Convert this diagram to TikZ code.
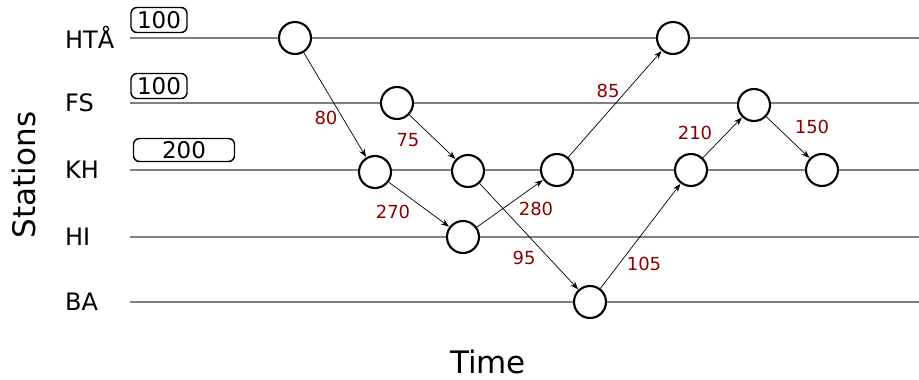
\documentclass[tikz,border=0pt]{standalone}
\usepackage{fontspec}
\setmainfont{DejaVu Sans}
\usetikzlibrary{arrows.meta}
\begin{document}
\begin{tikzpicture}[x=1pt,y=-1pt,
  station/.style={draw=black!50, line width=2.3pt},
  stlabel/.style={anchor=west, inner sep=0pt, font=\fontsize{24}{26}\selectfont},
  event/.style={circle, draw, line width=2.1pt, minimum size=32pt, inner sep=0pt, fill=white},
  flow/.style={-{Stealth[length=8pt,width=6pt]}, line width=0.7pt, shorten >=0.5pt},
  flab/.style={text=red!55!black, font=\fontsize{18}{20}\selectfont, inner sep=0pt},
  capbox/.style={draw, rounded corners=6pt, line width=1.4pt, inner sep=0pt, font=\fontsize{23}{25}\selectfont},
  axlab/.style={font=\fontsize{31}{34}\selectfont, inner sep=0pt}]
\useasboundingbox (0,0) rectangle (919,380);
% station lines
\foreach \n/\y in {hta/38, fs/103, kh/170, hi/237, ba/302}{
  \coordinate (\n-s) at (130,\y);
  \coordinate (\n-e) at (919,\y);
  \draw[station] (\n-s) -- (\n-e);
}
% station labels
\node[stlabel] (lhta) at (65,37) {HTÅ};
\node[stlabel] (lfs) at (65,103) {FS};
\node[stlabel] (lkh) at (65,170) {KH};
\node[stlabel] (lhi) at (65,237) {HI};
\node[stlabel] (lba) at (65,302) {BA};
% capacity boxes
\node[capbox, minimum width=56pt, minimum height=25pt] (c1) at (159,20) {100};
\node[capbox, minimum width=56pt, minimum height=25pt] (c2) at (159,86) {100};
\node[capbox, minimum width=101pt, minimum height=23pt] (c3) at (184,150) {200};
% axis labels
\node[axlab, rotate=90] (ystat) at (24,175) {Stations};
\node[axlab] (xtime) at (488,362) {Time};
% events
\node[event] (A) at (295,38) {};
\node[event] (B) at (397,103) {};
\node[event] (C) at (375,172) {};
\node[event] (D) at (468,171) {};
\node[event] (E) at (463,237) {};
\node[event] (F) at (557,170) {};
\node[event] (G) at (673,38) {};
\node[event] (H) at (590,302) {};
\node[event] (I) at (691,170) {};
\node[event] (J) at (754,105) {};
\node[event] (K) at (822,170) {};
% flows
\draw[flow] (A) -- (C);
\draw[flow] (B) -- (D);
\draw[flow] (C) -- (E);
\draw[flow] (E) -- (F);
\draw[flow] (D) -- (H);
\draw[flow] (F) -- (G);
\draw[flow] (H) -- (I);
\draw[flow] (I) -- (J);
\draw[flow] (J) -- (K);
% flow labels
\node[flab] (l80) at (326,118) {80};
\node[flab] (l75) at (408,140) {75};
\node[flab] (l270) at (393,212) {270};
\node[flab] (l280) at (536,209) {280};
\node[flab] (l95) at (524,258) {95};
\node[flab] (l85) at (608,91) {85};
\node[flab] (l105) at (644,264) {105};
\node[flab] (l210) at (695,133) {210};
\node[flab] (l150) at (812,127) {150};
\end{tikzpicture}
\end{document}
